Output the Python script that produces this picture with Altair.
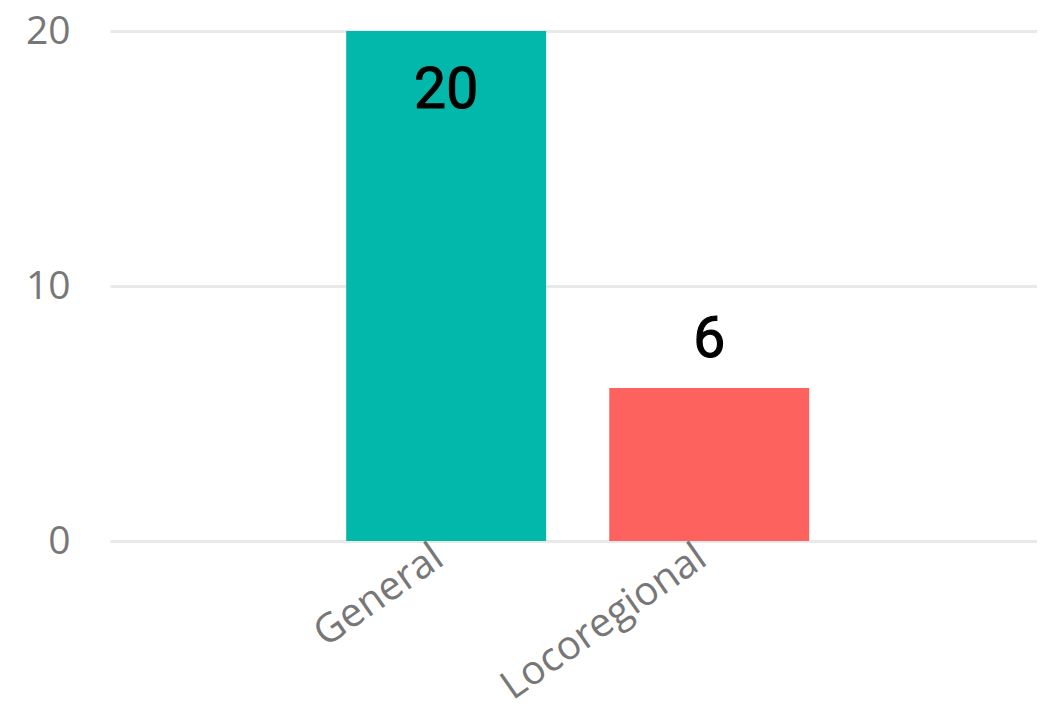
import altair as alt
import pandas as pd

categories = ["General", "Locoregional"]
values = [20, 6]
colors = ["#01B8AA", "#FD625E"]

df = pd.DataFrame({"cat": categories, "val": values, "color": colors})

x = alt.X("cat:N", sort=categories, title=None,
          scale=alt.Scale(paddingInner=0.24, paddingOuter=0.882, align=0.509),
          axis=alt.Axis(labelAngle=-35, labelAlign="right", labelBaseline="middle",
                        labelFontSize=40, labelColor="#777777", labelFont="Open Sans",
                        labelPadding=12, labelOffset=-7, labelLimit=1000,
                        ticks=False, domain=False, grid=False))
y = alt.Y("val:Q", title=None,
          scale=alt.Scale(domain=[0, 20]),
          axis=alt.Axis(values=[0, 10, 20], labelFontSize=39, labelColor="#777777",
                        labelFont="Open Sans", labelPadding=40, ticks=False, domain=False,
                        gridColor="#e9e9e9", gridWidth=3))

base = alt.Chart(df)
bars = base.mark_bar().encode(x=x, y=y, color=alt.Color("color:N", scale=None))
text_style = dict(fontSize=57, font="Roboto", color="black", stroke="black",
                  strokeWidth=1.1, baseline="alphabetic")
inside = base.transform_filter("datum.val >= 15").mark_text(
    dy=77, **text_style
).encode(x=x, y=y, text="val:Q")
above = base.transform_filter("datum.val < 15").mark_text(
    dy=-31, **text_style
).encode(x=x, y=y, text="val:Q")

chart = alt.layer(bars, inside, above).properties(
    width=927, height=510,
    autosize=alt.AutoSizeParams(type="none"),
    padding={"left": 102, "top": 23, "right": 0, "bottom": 160},
).configure_view(stroke=None)

chart.save("out.html", embed_options={"renderer": "svg", "actions": False})
